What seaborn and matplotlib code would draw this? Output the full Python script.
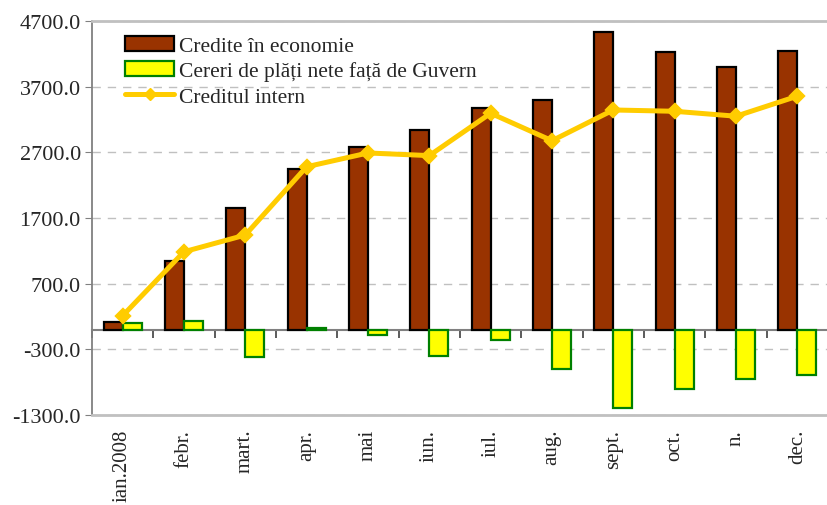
import numpy as np
import pandas as pd
import matplotlib
matplotlib.use('Agg')
import matplotlib.pyplot as plt
from matplotlib.patches import Patch
from matplotlib.lines import Line2D
import seaborn as sns

# Data
luni = ['ian.2008', 'febr.', 'mart.', 'apr.', 'mai', 'iun.', 'iul.', 'aug.',
        'sept.', 'oct.', 'n.', 'dec.']
credite_economie = [113, 1047, 1855, 2445, 2785, 3045, 3370, 3497, 4529, 4224, 4000, 4239]
cereri_guvern = [95, 128, -415, 25, -85, -400, -160, -600, -1190, -900, -755, -690]
creditul_intern = [210, 1185, 1440, 2480, 2690, 2650, 3295, 2877, 3345, 3325, 3250, 3555]

serii = ['Credite în economie', 'Cereri de plăți nete față de Guvern']
y_ticks = [-1300, -300, 700, 1700, 2700, 3700, 4700]

df = pd.DataFrame({
    'luna': luni * 2,
    'valoare': credite_economie + cereri_guvern,
    'serie': [serii[0]] * len(luni) + [serii[1]] * len(luni),
})

sns.set_style('white')
plt.rcParams['font.family'] = ['Liberation Serif', 'DejaVu Serif']

fig = plt.figure(figsize=(8.28, 5.06), dpi=100)
ax = fig.add_axes([0.111, 0.178, 0.889, 0.7785])

brown = '#993300'
yellow = '#FFFF00'
sns.barplot(data=df, x='luna', y='valoare', hue='serie', hue_order=serii,
            palette=[brown, yellow], width=0.62, saturation=1, legend=False, ax=ax)
for container, ec in zip(ax.containers, ['black', '#008000']):
    for bar in container:
        bar.set_edgecolor(ec)
        bar.set_linewidth(1.6)

sns.pointplot(x=luni, y=creditul_intern, color='#FFCC00', markers='D',
              markersize=6, linewidth=3.6, errorbar=None, ax=ax)

ax.set_xlim(-0.5, len(luni) - 0.5)
ax.set_ylim(-1300, 4700)
ax.set_yticks(y_ticks)
ax.set_yticklabels([f'{v:.1f}' for v in y_ticks], fontsize=16)
ax.set_xticks(range(len(luni)))
ax.set_xticklabels(luni, rotation=90, fontsize=15, va='top')
ax.tick_params(axis='x', length=0, pad=10)
ax.tick_params(axis='y', length=5, color='#808080', direction='out', left=True, pad=3)
ax.set_xlabel('')
ax.set_ylabel('')

ax.yaxis.grid(True, linestyle=(0, (6, 5)), color='#c0c0c0', linewidth=1)
ax.set_axisbelow(True)

for s in ['top', 'bottom']:
    ax.spines[s].set_color('#c0c0c0')
    ax.spines[s].set_linewidth(2)
ax.spines['right'].set_visible(False)
ax.spines['left'].set_color('#808080')
ax.spines['left'].set_linewidth(1.3)

# zero axis with category separators
zero_pos = (0 - y_ticks[0]) / (y_ticks[-1] - y_ticks[0])
sec = ax.secondary_xaxis(zero_pos)
sec.set_xticks(np.arange(-0.5, len(luni), 1))
sec.set_xticklabels([])
sec.tick_params(length=6, color='#404040', width=1.2, direction='out')
sec.spines['bottom'].set_color('#808080')
sec.spines['bottom'].set_linewidth(1.5)

handles = [
    Patch(facecolor=brown, edgecolor='black', linewidth=1.6),
    Patch(facecolor=yellow, edgecolor='#008000', linewidth=1.6),
    Line2D([0], [0], color='#FFCC00', lw=3.6, marker='D', markersize=6),
]
ax.legend(handles, serii + ['Creditul intern'], loc='upper left',
          bbox_to_anchor=(0.03, 0.99), frameon=False, fontsize=15.5,
          handlelength=2.3, handleheight=0.7, labelspacing=0.25,
          handletextpad=0.2, borderaxespad=0.1)

fig.savefig('out.png', dpi=100)
